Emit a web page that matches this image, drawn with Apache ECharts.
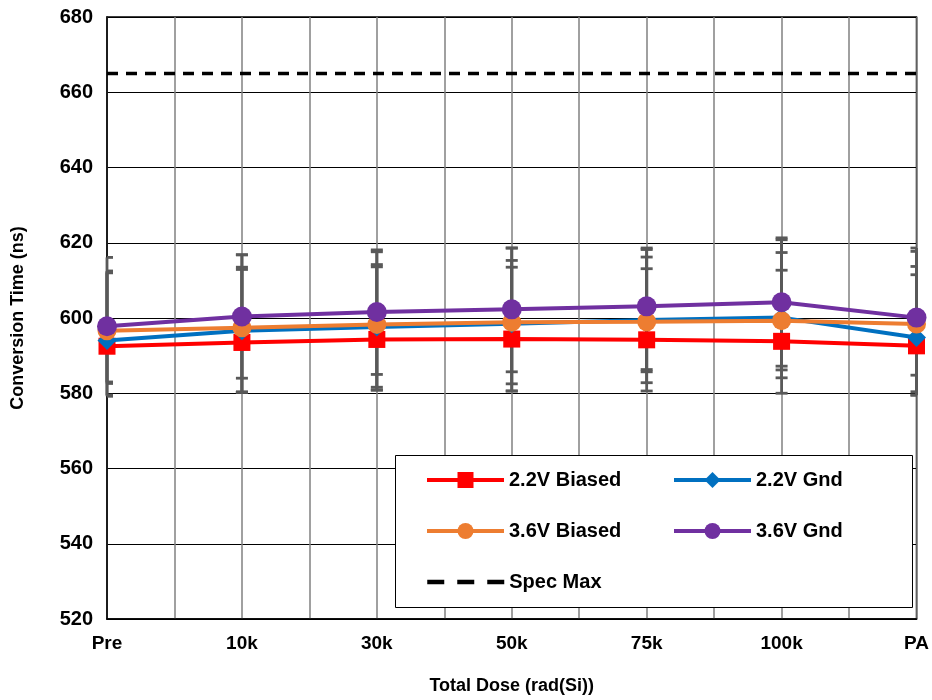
<!DOCTYPE html>
<html>
<head>
<meta charset="utf-8">
<script src="https://cdn.jsdelivr.net/npm/echarts@6/dist/echarts.min.js"></script>
<style>html,body{margin:0;padding:0;background:#fff}#c{width:932px;height:700px}</style>
</head>
<body>
<div id="c"></div>
<script>
const categories = ['Pre', '10k', '30k', '50k', '75k', '100k', 'PA'];
const yTicks = [520, 540, 560, 580, 600, 620, 640, 660, 680];

const biased22 = [592.5, 593.5, 594.3, 594.4, 594.2, 593.8, 592.6];
const gnd22    = [594.0, 596.6, 597.6, 598.5, 599.5, 600.1, 594.8];
const biased36 = [596.6, 597.4, 598.3, 598.9, 599.0, 599.3, 598.4];
const gnd36    = [597.8, 600.4, 601.6, 602.3, 603.1, 604.2, 600.1];
const specMax  = 665;

const biased22Hi = [612.0, 612.9, 613.6, 613.5, 613.1, 612.7, 611.5];
const biased22Lo = [583.0, 584.0, 585.0, 585.7, 586.3, 587.2, 584.8];
const gnd22Hi    = [612.5, 613.5, 614.2, 615.3, 616.2, 617.4, 613.7];
const gnd22Lo    = [582.6, 580.3, 581.6, 582.5, 585.7, 586.2, 580.4];
const biased36Hi = [612.3, 616.8, 617.6, 618.6, 618.2, 620.8, 617.7];
const biased36Lo = [579.5, 580.3, 580.9, 580.6, 582.8, 584.1, 579.5];
const gnd36Hi    = [616.1, 616.8, 618.1, 618.6, 618.6, 621.3, 618.6];
const gnd36Lo    = [579.2, 580.3, 580.8, 580.6, 580.6, 580.0, 579.5];

const FONT = 'Liberation Sans';
const toXY = arr => arr.map((v, i) => [i, v]);
const errData = [];
[[biased22Lo, biased22Hi], [gnd22Lo, gnd22Hi], [biased36Lo, biased36Hi], [gnd36Lo, gnd36Hi]].forEach(([lo, hi]) => {
  lo.forEach((v, i) => errData.push([i, v, hi[i]]));
});

const chart = echarts.init(document.getElementById('c'), null, {renderer: 'canvas'});

function errRender(params, api) {
  const x = api.value(0), lo = api.value(1), hi = api.value(2);
  const pHi = api.coord([x, hi]);
  const pLo = api.coord([x, lo]);
  const cs = params.coordSys;
  const hw = 6;
  const xa = Math.max(pHi[0] - hw, cs.x), xb = Math.min(pHi[0] + hw, cs.x + cs.width);
  const st = {stroke: '#595959', lineWidth: 2.8};
  return {
    type: 'group',
    children: [
      {type: 'line', shape: {x1: pHi[0], y1: pHi[1], x2: pLo[0], y2: pLo[1]}, style: st},
      {type: 'line', shape: {x1: xa, y1: pHi[1], x2: xb, y2: pHi[1]}, style: st},
      {type: 'line', shape: {x1: xa, y1: pLo[1], x2: xb, y2: pLo[1]}, style: st}
    ]
  };
}

const legendText = {fontFamily: FONT, fontWeight: 'bold', fontSize: 20, color: '#000'};
function mkLegend(name, left, top, extra) {
  return Object.assign({
    data: [name], left: left, top: top, itemWidth: 77, itemHeight: 20, itemGap: 0,
    textStyle: legendText, selectedMode: false, padding: 0, z: 20,
    lineStyle: {width: 4}
  }, extra || {});
}

const option = {
  animation: false,
  backgroundColor: '#fff',
  grid: {left: 107, right: 12, top: 17, bottom: 80, show: true, borderColor: '#000', borderWidth: 1.5, backgroundColor: 'transparent'},
  xAxis: {
    type: 'value', min: 0, max: categories.length - 1, interval: 0.5,
    name: 'Total Dose (rad(Si))', nameLocation: 'middle', nameGap: 58,
    nameTextStyle: {fontFamily: FONT, fontWeight: 'bold', fontSize: 18, color: '#000'},
    axisLine: {show: true, lineStyle: {color: '#000', width: 1.5}},
    axisTick: {show: false},
    axisLabel: {
      fontFamily: FONT, fontWeight: 'bold', fontSize: 19, color: '#000', margin: 15,
      formatter: v => Number.isInteger(v) ? categories[v] : ''
    },
    splitLine: {show: true, lineStyle: {color: '#808080', width: 1.5}}
  },
  yAxis: {
    type: 'value', min: yTicks[0], max: yTicks[yTicks.length - 1], interval: 20,
    name: 'Conversion Time (ns)', nameLocation: 'middle', nameGap: 80,
    nameTextStyle: {fontFamily: FONT, fontWeight: 'bold', fontSize: 18, color: '#000'},
    axisLine: {show: true, lineStyle: {color: '#000', width: 1.5}},
    axisTick: {show: false},
    axisLabel: {fontFamily: FONT, fontWeight: 'bold', fontSize: 20, color: '#000', margin: 14},
    splitLine: {show: true, lineStyle: {color: '#000', width: 1}}
  },
  legend: [
    mkLegend('2.2V Biased', 425, 470),
    mkLegend('2.2V Gnd', 672, 470),
    mkLegend('3.6V Biased', 425, 521),
    mkLegend('3.6V Gnd', 672, 521),
    mkLegend('Spec Max', 425, 572, {
      itemStyle: {opacity: 0, color: 'transparent', borderWidth: 0},
      lineStyle: {width: 4.5, type: [17, 13], color: '#000', opacity: 1}
    })
  ],
  graphic: [{
    type: 'rect', left: 395, top: 455, z: 10,
    shape: {width: 517, height: 152},
    style: {fill: '#fff', stroke: '#000', lineWidth: 1}
  }],
  series: [
    {type: 'custom', name: 'err', renderItem: errRender, data: errData, encode: {x: 0, y: [1, 2]}, z: 1, silent: true},
    {type: 'line', name: 'Spec Max', data: categories.map((c, i) => [i, specMax]), symbol: 'none',
      lineStyle: {color: '#000', width: 3.5, type: [11, 8]}, itemStyle: {color: '#000'}, z: 2},
    {type: 'line', name: '2.2V Biased', data: toXY(biased22), symbol: 'rect', symbolSize: 17,
      lineStyle: {color: '#FF0000', width: 4}, itemStyle: {color: '#FF0000'}, z: 3},
    {type: 'line', name: '2.2V Gnd', data: toXY(gnd22), symbol: 'diamond', symbolSize: 19,
      lineStyle: {color: '#0070C0', width: 4}, itemStyle: {color: '#0070C0'}, z: 4},
    {type: 'line', name: '3.6V Biased', data: toXY(biased36), symbol: 'circle', symbolSize: 19,
      lineStyle: {color: '#ED7D31', width: 4}, itemStyle: {color: '#ED7D31'}, z: 5},
    {type: 'line', name: '3.6V Gnd', data: toXY(gnd36), symbol: 'circle', symbolSize: 20,
      lineStyle: {color: '#7030A0', width: 4}, itemStyle: {color: '#7030A0'}, z: 6}
  ]
};
chart.setOption(option);
</script>
</body>
</html>
